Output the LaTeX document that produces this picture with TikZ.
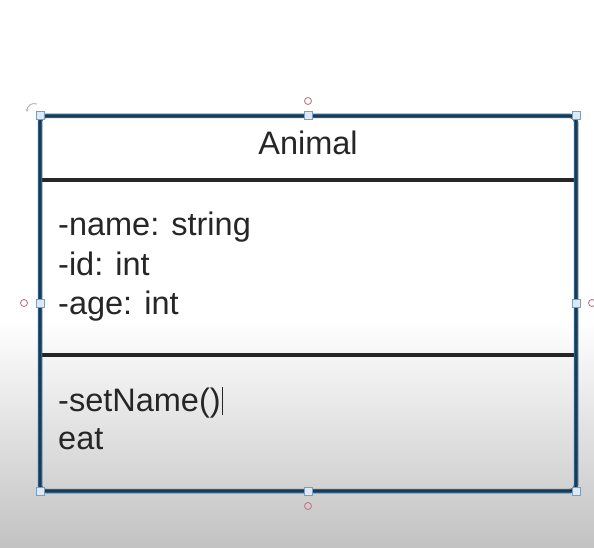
\documentclass[tikz,border=0pt]{standalone}
\usepackage{fontspec}
\setmainfont{Liberation Sans}
\usetikzlibrary{positioning,arrows.meta}
\definecolor{frameblue}{HTML}{2B5C85}
\definecolor{framedark}{HTML}{17283A}
\definecolor{handlefill}{HTML}{DDE9F4}
\definecolor{handleline}{HTML}{7E9DBA}
\definecolor{pinring}{HTML}{C27A8A}
\definecolor{inktext}{HTML}{262626}
\definecolor{floorgray}{HTML}{C2C2C2}
\begin{document}
\begin{tikzpicture}[x=1pt,y=-1pt,
	handle/.style={draw=handleline,fill=handlefill,line width=1pt,minimum size=8pt,inner sep=0pt},
	ring/.style={draw=pinring,line width=0.9pt,circle,minimum size=7pt,inner sep=0pt},
	entry/.style={anchor=base west,inner sep=0pt,text=inktext,font=\fontsize{32.5}{40}\selectfont}]
			\useasboundingbox (0,0) rectangle (594,548);
			\fill[white] (0,0) rectangle (594,548);
			\shade[top color=white,bottom color=floorgray] (0,320) rectangle (594,548);
				%%%%%%%%
			\coordinate (nw) at (40,116);   \coordinate (ne) at (576,116);
			\coordinate (sw) at (40,491);   \coordinate (se) at (576,491);
			\coordinate (n) at (308,116);   \coordinate (s) at (308,491);
			\coordinate (w) at (40,303);    \coordinate (e) at (576,303);
			\coordinate (splitA-w) at (40,180);  \coordinate (splitA-e) at (576,180);
			\coordinate (splitB-w) at (40,355);  \coordinate (splitB-e) at (576,355);
			\draw[line width=4pt,draw=inktext] (splitA-w)--(splitA-e) (splitB-w)--(splitB-e);
			\draw[line width=4.5pt,draw=frameblue,rounded corners=6pt] (nw) rectangle (se);
			\draw[line width=1.2pt,draw=framedark,rounded corners=6pt] (nw) rectangle (se);
				%%%%%%%%
			\node[entry,anchor=base] (title) at (308,155) {Animal};
			\node[entry] (attrname) at (58,235) {-name: string};
			\node[entry] (attrid) at (58,275) {-id: int};
			\node[entry] (attrage) at (58,314) {-age: int};
			\node[entry] (setname) at (58,411) {-setName()};
			\node[entry] (eat) at (58,449) {eat};
			\draw[inktext,line width=1pt] ([xshift=1.5pt,yshift=-4pt]setname.base east)--++(0,-28);
				%%%%%%%%
			\draw[gray!55,line width=1pt,-{Stealth[length=3pt,width=3pt]}] (37,104) .. controls (32,102) and (27,106) .. (27,112);
			\foreach \h in {nw,ne,sw,se,n,s,w,e}
				\node[handle] (handle-\h) at (\h) {};
			\foreach \r/\c in {top/{(308,101)},bottom/{(308,506)},left/{(24,303)},right/{(592,303)}}
				\node[ring] (ring-\r) at \c {};
		\end{tikzpicture}
\end{document}
